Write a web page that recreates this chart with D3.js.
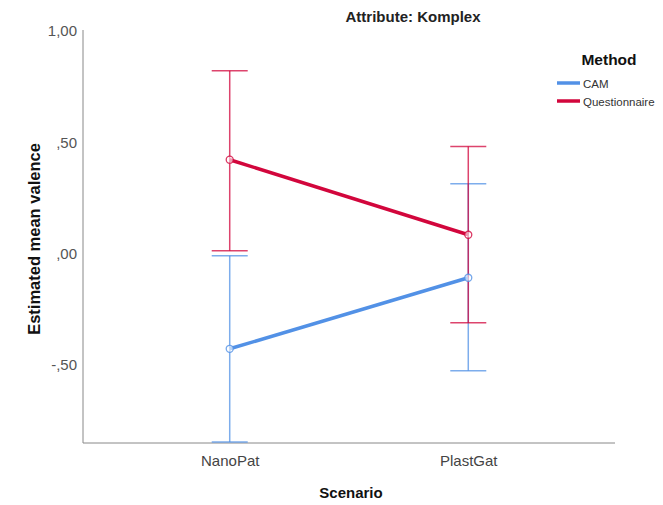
<!DOCTYPE html>
<html>
<head>
  <meta charset='utf-8'>
  <script src='https://cdn.jsdelivr.net/npm/d3@7/dist/d3.min.js'></script>
  <style>
    body { margin: 0; background: #fff; }
    text { font-family: 'Liberation Sans', Arial, sans-serif; }
  </style>
</head>
<body>
<div id='chart'></div>
<script>
  // values
  var scenarios = ['NanoPat', 'PlastGat'];
  var methods = ['CAM', 'Questionnaire'];
  var camMean = [-0.427, -0.108];
  var camLow = [-0.845, -0.526];
  var camHigh = [-0.009, 0.314];
  var qMean = [0.422, 0.085];
  var qLow = [0.013, -0.31];
  var qHigh = [0.822, 0.481];
  var yTicks = [1, 0.5, 0, -0.5];
  var colors = { CAM: '#5291e6', Questionnaire: '#d2063c' };

  var series = [
    { name: 'CAM', mean: camMean, low: camLow, high: camHigh },
    { name: 'Questionnaire', mean: qMean, low: qLow, high: qHigh }
  ];

  var width = 663, height = 505;
  var svg = d3.select('#chart').append('svg')
    .attr('width', width)
    .attr('height', height);

  var x = d3.scalePoint().domain(scenarios).range([83, 615]).padding(0.615);
  var y = d3.scaleLinear().domain([-0.85, 1]).range([443, 31]);

  function fmt(v) {
    var s = d3.format('.2f')(Math.abs(v)).replace('.', ',').replace(/^0/, '');
    return (v < 0 ? '-' : '') + s;
  }

  // y axis
  var yAxis = svg.append('g')
    .attr('transform', 'translate(83,0)')
    .call(d3.axisLeft(y).tickValues(yTicks).tickSize(0).tickPadding(6).tickFormat(fmt));
  yAxis.select('.domain').attr('stroke', '#888').attr('d', 'M0,30V443');
  yAxis.selectAll('text').attr('font-size', 15).attr('fill', '#555')
    .attr('font-family', "'Liberation Sans', Arial, sans-serif");

  // x axis
  var xAxis = svg.append('g')
    .attr('transform', 'translate(0,443)')
    .call(d3.axisBottom(x).tickSize(0).tickPadding(12));
  xAxis.select('.domain').attr('stroke', '#888').attr('d', 'M83,0H615');
  xAxis.selectAll('text').attr('font-size', 15).attr('fill', '#444')
    .attr('font-family', "'Liberation Sans', Arial, sans-serif");

  svg.append('clipPath').attr('id', 'plot')
    .append('rect').attr('x', 84).attr('y', 25).attr('width', 540).attr('height', 418.5);

  var plot = svg.append('g').attr('clip-path', 'url(#plot)');

  // error bars
  series.forEach(function(s) {
    var g = plot.append('g')
      .attr('stroke', colors[s.name])
      .attr('stroke-opacity', 0.75)
      .attr('stroke-width', 1.5)
      .attr('fill', 'none');
    scenarios.forEach(function(sc, i) {
      var cx = x(sc);
      g.append('line').attr('x1', cx).attr('x2', cx).attr('y1', y(s.low[i])).attr('y2', y(s.high[i]));
      g.append('line').attr('x1', cx - 18).attr('x2', cx + 18).attr('y1', y(s.low[i])).attr('y2', y(s.low[i]));
      g.append('line').attr('x1', cx - 18).attr('x2', cx + 18).attr('y1', y(s.high[i])).attr('y2', y(s.high[i]));
    });
  });

  // mean lines and markers
  var line = d3.line()
    .x(function(d, i) { return x(scenarios[i]); })
    .y(function(d) { return y(d); });

  series.forEach(function(s) {
    plot.append('path')
      .datum(s.mean)
      .attr('d', line)
      .attr('fill', 'none')
      .attr('stroke', colors[s.name])
      .attr('stroke-width', 3.5);
    plot.selectAll('.m' + s.name)
      .data(s.mean)
      .enter()
      .append('circle')
      .attr('cx', function(d, i) { return x(scenarios[i]); })
      .attr('cy', function(d) { return y(d); })
      .attr('r', 3.5)
      .attr('fill', '#fff')
      .attr('fill-opacity', 0.6)
      .attr('stroke', colors[s.name])
      .attr('stroke-opacity', 0.8)
      .attr('stroke-width', 1.3);
  });

  // title and axis titles
  svg.append('text').attr('x', 413).attr('y', 22).attr('text-anchor', 'middle')
    .attr('font-size', 15).attr('font-weight', 'bold').attr('fill', '#222')
    .text('Attribute: Komplex');

  svg.append('text').attr('transform', 'translate(40,239) rotate(-90)')
    .attr('text-anchor', 'middle').attr('font-size', 16.5).attr('font-weight', 'bold')
    .attr('fill', '#111').text('Estimated mean valence');

  svg.append('text').attr('x', 351).attr('y', 498).attr('text-anchor', 'middle')
    .attr('font-size', 15).attr('font-weight', 'bold').attr('fill', '#111')
    .text('Scenario');

  // legend
  var legend = svg.append('g');
  legend.append('text').attr('x', 609).attr('y', 65).attr('text-anchor', 'middle')
    .attr('font-size', 15.5).attr('font-weight', 'bold').attr('fill', '#111').text('Method');
  methods.forEach(function(m, i) {
    var ly = 83 + i * 18;
    legend.append('line').attr('x1', 557).attr('x2', 580).attr('y1', ly).attr('y2', ly)
      .attr('stroke', colors[m]).attr('stroke-width', 3.5);
    legend.append('text').attr('x', 583).attr('y', ly + 4.5)
      .attr('font-size', 11.5).attr('fill', '#333').text(m);
  });
</script>
</body>
</html>
